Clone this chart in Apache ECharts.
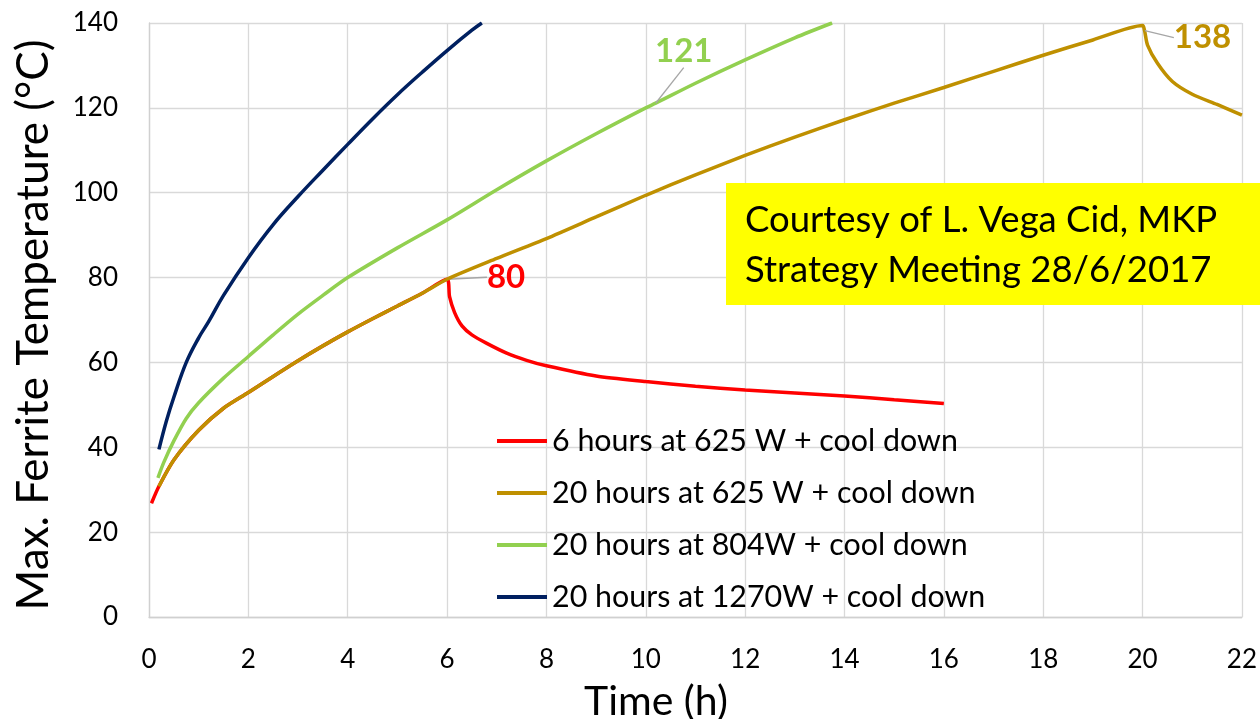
<!DOCTYPE html>
<html>
<head>
<meta charset="utf-8">
<style>
  html, body { margin: 0; padding: 0; background: #ffffff; }
  #chart { width: 1260px; height: 719px; }
</style>
<script src="https://cdn.jsdelivr.net/npm/echarts@6/dist/echarts.min.js"></script>
</head>
<body>
<div id="chart"></div>
<script>
// Axis ticks
const xTicks = [0, 2, 4, 6, 8, 10, 12, 14, 16, 18, 20, 22];
const yTicks = [0, 20, 40, 60, 80, 100, 120, 140];

// Series names
const seriesNames = [
  '6 hours at 625 W + cool down',
  '20 hours at 625 W + cool down',
  '20 hours at 804W + cool down',
  '20 hours at 1270W + cool down'
];

// 6 h at 625 W, then cool down
const redTime = [0.05, 0.2, 0.5, 1, 1.5, 2, 2.5, 3, 3.5, 4, 4.5, 5, 5.5, 6,
  6.05, 6.15, 6.3, 6.5, 6.8, 7.2, 7.6, 8, 9, 10, 11, 12, 13, 14, 15, 16];
const redTemp = [26.8, 30.8, 37, 44, 49.2, 52.9, 56.7, 60.4, 63.9, 67.2, 70.3, 73.3, 76.3, 79.6,
  75.5, 71.8, 68.6, 66.5, 64.5, 62.2, 60.5, 59.2, 56.8, 55.5, 54.4, 53.5, 52.8, 52.1, 51.2, 50.3];

// 20 h at 625 W, then cool down
const goldTime = [0.2, 0.5, 1, 1.5, 2, 2.5, 3, 3.5, 4, 4.5, 5, 5.5, 6, 7, 8, 9, 10, 11, 12,
  13, 14, 15, 16, 17, 18, 19, 20, 20.04, 20.1, 20.3, 20.6, 21, 21.5, 22];
const goldTemp = [30.8, 37, 44, 49.2, 52.9, 56.7, 60.4, 63.9, 67.2, 70.3, 73.3, 76.3, 79.6, 84.5, 89.2, 94.3, 99.4, 104.2, 108.8,
  113.1, 117.2, 121.1, 124.8, 128.6, 132.4, 136, 139.4, 138.2, 134.8, 130.5, 126.2, 123.2, 120.8, 118.3];

// 20 h at 804 W
const greenTime = [0.18, 0.3, 0.5, 0.75, 1, 1.5, 2, 2.5, 3, 3.5, 4, 5, 6, 7, 8, 9, 10, 10.2, 11, 12, 13, 13.75];
const greenTemp = [32.8, 36.5, 41.5, 46.8, 50.5, 56.3, 61.4, 66.5, 71.4, 75.8, 80, 87, 93.6, 100.7, 107.5, 113.9, 120, 121.1, 125.8, 131.3, 136.5, 140];

// 20 h at 1270 W
const blueTime = [0.2, 0.35, 0.5, 0.75, 1, 1.2, 1.5, 2, 2.5, 3, 3.5, 4, 4.5, 5, 5.5, 6, 6.5, 6.7];
const blueTemp = [39.5, 46.2, 51.8, 60, 65.8, 69.6, 75.8, 84.7, 92.5, 99.1, 105.3, 111.4, 117.4, 123.1, 128.4, 133.5, 138.3, 140];

// Times of the annotated points
const redLabelTime = 6;
const goldLabelTime = 20.04;
const greenLabelTime = 10.2;

const colors = ['#ff0000', '#bf9000', '#92d050', '#002060'];
const FONT = 'Lato, "Open Sans", sans-serif';

function buildData(times, temps, labelTime, labelColor, padding) {
  return times.map((t, i) => {
    if (t === labelTime) {
      return {
        value: [t, temps[i]],
        label: {
          show: true,
          position: 'inside',
          formatter: p => String(Math.round(p.value[1])),
          color: labelColor,
          fontFamily: FONT,
          fontWeight: 'bold',
          fontSize: 33,
          padding: padding
        }
      };
    }
    return [t, temps[i]];
  });
}

function lineSeries(name, color, data, z, smooth) {
  return {
    name: name,
    type: 'line',
    data: data,
    color: color,
    showSymbol: true,
    symbol: 'circle',
    symbolSize: 0.5,
    smooth: smooth,
    z: z,
    lineStyle: { color: color, width: 3.5 },
    labelLine: { show: true, length2: 0, lineStyle: { color: '#a6a6a6', width: 1.3 } },
    emphasis: { disabled: true },
    animation: false
  };
}

const chart = echarts.init(document.getElementById('chart'), null, { renderer: 'canvas' });

const redSeries = lineSeries(seriesNames[0], colors[0],
  buildData(redTime, redTemp, redLabelTime, colors[0], 0), 2, 0.25);
const goldSeries = lineSeries(seriesNames[1], colors[1],
  buildData(goldTime, goldTemp, goldLabelTime, colors[1], 0), 3, 0.25);
const greenSeries = lineSeries(seriesNames[2], colors[2],
  buildData(greenTime, greenTemp, greenLabelTime, colors[2], [0, 0, 14, 0]), 4, 0.3);
const blueSeries = lineSeries(seriesNames[3], colors[3],
  buildData(blueTime, blueTemp, null, colors[3], 0), 5, 0.4);

// Label offsets from their anchor points
redSeries.labelLayout = { dx: 59, dy: -2 };
goldSeries.labelLayout = { dx: 58, dy: 7 };
greenSeries.labelLayout = { dx: 28, dy: -52 };

chart.setOption({
  backgroundColor: '#ffffff',
  animation: false,
  textStyle: { fontFamily: FONT },
  grid: { left: 149, right: 18, top: 23, bottom: 102, containLabel: false },
  legend: {
    data: seriesNames,
    orient: 'vertical',
    left: 497,
    top: 421,
    padding: 0,
    icon: 'rect',
    itemWidth: 50,
    itemHeight: 4,
    itemGap: 12,
    selectedMode: false,
    textStyle: { fontFamily: FONT, fontSize: 30.4, color: '#000000', lineHeight: 40 }
  },
  xAxis: {
    type: 'value',
    min: xTicks[0],
    max: xTicks[xTicks.length - 1],
    interval: 2,
    axisLine: { show: true, lineStyle: { color: '#d0d0d0', width: 1.3 } },
    axisTick: { show: false },
    splitLine: { show: true, lineStyle: { color: '#d9d9d9', width: 1.3 } },
    axisLabel: { fontFamily: FONT, fontSize: 26, color: '#000000', margin: 30 }
  },
  yAxis: {
    type: 'value',
    min: yTicks[0],
    max: yTicks[yTicks.length - 1],
    interval: 20,
    axisLine: { show: true, lineStyle: { color: '#d0d0d0', width: 1.3 } },
    axisTick: { show: false },
    splitLine: { show: true, lineStyle: { color: '#d9d9d9', width: 1.3 } },
    axisLabel: { fontFamily: FONT, fontSize: 26, color: '#000000', margin: 31 }
  },
  graphic: [
    {
      type: 'text',
      x: 34,
      y: 325,
      rotation: Math.PI / 2,
      z: 100,
      style: {
        text: 'Max. Ferrite Temperature (°C)',
        font: '44px ' + FONT,
        fill: '#000000',
        align: 'center',
        verticalAlign: 'middle'
      }
    },
    {
      type: 'text',
      x: 656,
      y: 702,
      z: 100,
      style: {
        text: 'Time (h)',
        font: '41px ' + FONT,
        fill: '#000000',
        align: 'center',
        verticalAlign: 'middle'
      }
    },
    {
      type: 'rect',
      x: 726,
      y: 183,
      z: 100,
      shape: { x: 0, y: 0, width: 540, height: 122 },
      style: { fill: '#ffff00' }
    },
    {
      type: 'text',
      x: 745,
      y: 220,
      z: 101,
      style: {
        text: 'Courtesy of L. Vega Cid, MKP',
        font: '36.5px ' + FONT,
        fill: '#000000',
        align: 'left',
        verticalAlign: 'middle'
      }
    },
    {
      type: 'text',
      x: 745,
      y: 270,
      z: 101,
      style: {
        text: 'Strategy Meeting 28/6/2017',
        font: '36.5px ' + FONT,
        fill: '#000000',
        align: 'left',
        verticalAlign: 'middle'
      }
    }
  ],
  series: [redSeries, goldSeries, greenSeries, blueSeries]
});
</script>
</body>
</html>
